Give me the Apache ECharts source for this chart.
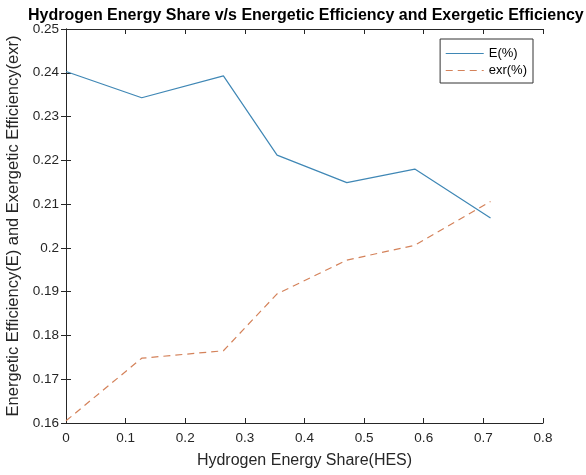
<!DOCTYPE html>
<html><head><meta charset="utf-8">
<script src="https://cdn.jsdelivr.net/npm/echarts@6/dist/echarts.min.js"></script>
<style>html,body{margin:0;padding:0;background:#fff}#c{width:586px;height:475px}</style>
</head><body><div id="c"></div>
<script>
var hes = [0, 0.127, 0.264, 0.354, 0.471, 0.585, 0.712];
var energetic = [0.2403, 0.2343, 0.2393, 0.2212, 0.2149, 0.2180, 0.2068];
var exergetic = [0.1605, 0.1748, 0.1765, 0.1895, 0.1972, 0.2006, 0.2106];
var xTicks = [0, 0.1, 0.2, 0.3, 0.4, 0.5, 0.6, 0.7, 0.8];
var yTicks = [0.16, 0.17, 0.18, 0.19, 0.2, 0.21, 0.22, 0.23, 0.24, 0.25];

var FONT = '"Liberation Sans", Arial, sans-serif';
var AX = '#262626';
function fmt(v){ return String(+(+v).toFixed(2)); }
function pairs(xs, ys){ return xs.map(function(x,i){ return [x, ys[i]]; }); }

var chart = echarts.init(document.getElementById('c'), null, {renderer:'canvas'});
var common = {
  axisLine:{show:true, lineStyle:{color:AX, width:1}},
  axisTick:{show:true, inside:true, length:5, lineStyle:{color:AX}},
  splitLine:{show:false}
};
chart.setOption({
  animation:false,
  backgroundColor:'#fff',
  title:{text:'Hydrogen Energy Share v/s Energetic Efficiency and Exergetic Efficiency',
    left:23, top:3,
    textStyle:{fontFamily:FONT, fontSize:16, fontWeight:'bold', color:'#000'}},
  grid:{left:66, right:43, top:29, bottom:52, containLabel:false, outerBoundsMode:'none'},
  legend:{
    orient:'vertical', right:53, top:39,
    data:[{name:'E(%)'},{name:'exr(%)'}],
    itemWidth:38, itemHeight:12, itemGap:4,
    itemStyle:{opacity:0},
    lineStyle:{width:1.2},
    borderColor:'#333', borderWidth:1, padding:[8,6,6,5],
    backgroundColor:'#fff',
    textStyle:{fontFamily:FONT, fontSize:13, color:'#000'}
  },
  xAxis:[
    Object.assign({type:'value', min:0, max:0.8, interval:0.1, position:'bottom',
      name:'Hydrogen Energy Share(HES)', nameLocation:'middle', nameGap:30,
      nameTextStyle:{fontFamily:FONT, fontSize:16, color:AX},
      axisLabel:{fontFamily:FONT, fontSize:13.5, color:AX, margin:8, formatter:fmt}}, common),
    Object.assign({type:'value', min:0, max:0.8, interval:0.1, position:'top',
      axisLabel:{show:false}}, common)
  ],
  yAxis:[
    Object.assign({type:'value', min:0.16, max:0.25, interval:0.01, position:'left',
      name:'Energetic Efficiency(E) and Exergetic Efficiency(exr)', nameLocation:'middle', nameGap:43,
      nameTextStyle:{fontFamily:FONT, fontSize:16.5, color:AX},
      axisLabel:{fontFamily:FONT, fontSize:13.5, color:AX, margin:7, formatter:fmt}}, common),
    Object.assign({type:'value', min:0.16, max:0.25, interval:0.01, position:'right',
      axisLabel:{show:false}}, common)
  ],
  series:[
    {name:'E(%)', type:'line', data:pairs(hes, energetic), symbol:'none',
      lineStyle:{color:'#3f87b5', width:1.2}, itemStyle:{color:'#3f87b5'}},
    {name:'exr(%)', type:'line', data:pairs(hes, exergetic), symbol:'none',
      lineStyle:{color:'#d4825a', width:1.2, type:[7,5]}, itemStyle:{color:'#d4825a'}}
  ]
});
</script></body></html>
